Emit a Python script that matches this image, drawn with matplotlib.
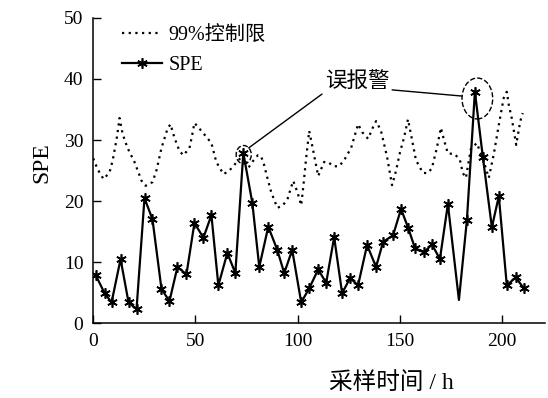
import matplotlib.pyplot as plt
from matplotlib.patches import Ellipse

plt.rcParams['font.family'] = ['Liberation Serif', 'Noto Sans CJK SC']
plt.rcParams['axes.unicode_minus'] = False

# 采样时刻 (h) 与 SPE 统计量
t_spe = [1.2, 5.6, 9.0, 13.4, 17.3, 21.2, 25.1, 29.0, 33.4, 37.3, 41.2, 45.6,
         49.5, 53.9, 57.8, 61.2, 65.6, 69.5, 73.4, 77.8, 81.2, 85.6, 90.0, 93.4,
         97.3, 101.7, 105.6, 110.0, 113.9, 117.8, 121.7, 125.6, 129.5, 133.9,
         138.3, 141.7, 146.6, 150.5, 154.0, 157.3, 161.7, 165.6, 169.5, 173.4,
         178.8, 182.7, 186.6, 190.5, 194.9, 198.3, 202.2, 206.6, 210.5]
spe = [7.9, 4.9, 3.4, 10.5, 3.4, 2.3, 20.5, 17.0, 5.6, 3.6, 9.2, 8.0,
       16.4, 14.0, 17.7, 6.2, 11.5, 8.2, 27.9, 19.7, 9.2, 15.8, 12.0, 8.2,
       12.0, 3.4, 5.7, 8.8, 6.6, 14.1, 4.9, 7.4, 6.2, 12.8,
       9.2, 13.3, 14.4, 18.7, 15.6, 12.3, 11.6, 12.9, 10.5, 19.5,
       3.8, 16.9, 37.9, 27.2, 15.7, 20.8, 6.2, 7.5, 5.7]

# 99% 控制限
t_lim = [0.0, 1.7, 3.2, 5.1, 8.0, 9.5, 11.5, 12.9, 14.4, 16.8, 20.2, 23.7,
         25.6, 29.0, 31.0, 33.4, 36.3, 37.8, 39.8, 42.2, 44.1, 47.1, 48.5,
         49.5, 53.4, 57.8, 60.2, 63.7, 66.6, 71.0, 73.4, 76.0, 78.0, 80.5,
         82.0, 83.5, 85.0, 87.0, 90.0, 92.4, 94.9, 96.8, 97.8, 99.8, 101.7,
         102.7, 104.1, 105.6, 107.6, 110.0, 112.9, 114.9, 117.3, 120.2, 122.7,
         126.1, 129.5, 131.5, 134.4, 136.8, 138.3, 140.7, 143.7, 146.1, 148.0,
         150.0, 151.9, 153.9, 155.9, 157.8, 161.2, 163.7, 165.6, 168.0, 170.0,
         171.5, 173.4, 176.8, 179.3, 180.7, 182.2, 184.6, 187.5, 190.5, 193.4,
         195.9, 198.3, 200.7, 202.2, 203.2, 204.6, 206.8, 208.8, 210.0]
lim = [27.0, 25.6, 24.6, 23.6, 24.7, 26.6, 30.2, 33.6, 31.0, 28.7, 26.4, 23.3,
       22.5, 23.1, 25.1, 28.7, 31.8, 32.6, 30.3, 28.2, 27.5, 28.7, 31.0,
       32.8, 31.3, 29.5, 26.4, 24.4, 25.0, 26.7, 27.5, 25.5, 26.5, 27.5,
       27.4, 26.0, 24.0, 21.5, 18.9, 19.2, 20.2, 22.3, 23.3, 21.5, 19.3,
       22.3, 27.0, 31.5, 28.2, 24.1, 26.4, 26.4, 25.7, 25.7, 26.7,
       28.7, 32.6, 31.3, 30.2, 32.1, 33.1, 31.5, 27.2, 22.6, 24.9,
       28.0, 30.3, 33.4, 30.0, 26.7, 24.6, 24.6, 25.4, 28.7, 32.0,
       30.0, 27.8, 27.7, 26.7, 24.6, 23.8, 28.5, 29.5, 27.0, 23.8,
       27.8, 32.5, 36.9, 37.9, 35.7, 33.6, 29.2, 33.1, 34.4]

fig = plt.figure(figsize=(5.48, 3.98), dpi=100)
ax = fig.add_axes([0.17, 0.188, 0.825, 0.767])

ax.plot(t_lim, lim, color='black', lw=1.6, linestyle=(0, (1, 2)),
        label='99%控制限')
marks = [i for i in range(len(spe)) if i != 44]
ax.plot(t_spe, spe, color='black', lw=1.6, marker=(6, 2, 0), markersize=7.5,
        markeredgewidth=1.2, markevery=marks, label='SPE')

# 误报警圈注
ax.add_patch(Ellipse((73.6, 27.6), 7.4, 3.0, fill=False, ls='--', lw=1.0,
                     color='black'))
ax.add_patch(Ellipse((187.8, 36.8), 15.0, 6.7, fill=False, ls='--', lw=1.0,
                     color='black'))
ax.annotate('误报警', xy=(76.0, 28.7), xytext=(129, 39.4), fontsize=15.5,
            ha='center', va='center',
            arrowprops=dict(arrowstyle='-', lw=1.0, relpos=(0.05, 0.15),
                            shrinkA=0, shrinkB=0))
ax.annotate('误报警', xy=(180.3, 37.2), xytext=(129, 39.4), fontsize=15.5,
            ha='center', va='center', color='none',
            arrowprops=dict(arrowstyle='-', lw=1.0, color='black',
                            relpos=(1.0, 0.15), shrinkA=0, shrinkB=0))

ax.set_xlim(0, 221)
ax.set_ylim(0, 50)
ax.set_xticks([0, 50, 100, 150, 200])
ax.set_yticks([0, 10, 20, 30, 40, 50])
ax.tick_params(direction='in', length=6, width=1, labelsize=14, pad=7)
for s in ['top', 'right']:
    ax.spines[s].set_visible(False)
for s in ['left', 'bottom']:
    ax.spines[s].set_linewidth(1.1)

ax.set_xlabel('采样时间 / h', fontsize=17)
ax.set_ylabel('SPE', fontsize=17)
ax.xaxis.set_label_coords(0.66, -0.16)
ax.yaxis.set_label_coords(-0.09, 0.525)

ax.legend(loc='upper left', bbox_to_anchor=(0.064, 0.975), frameon=False,
          fontsize=14.5, handlelength=2.0, handletextpad=0.3,
          borderpad=0, borderaxespad=0, labelspacing=0.55)

fig.savefig('out.png', dpi=100)
